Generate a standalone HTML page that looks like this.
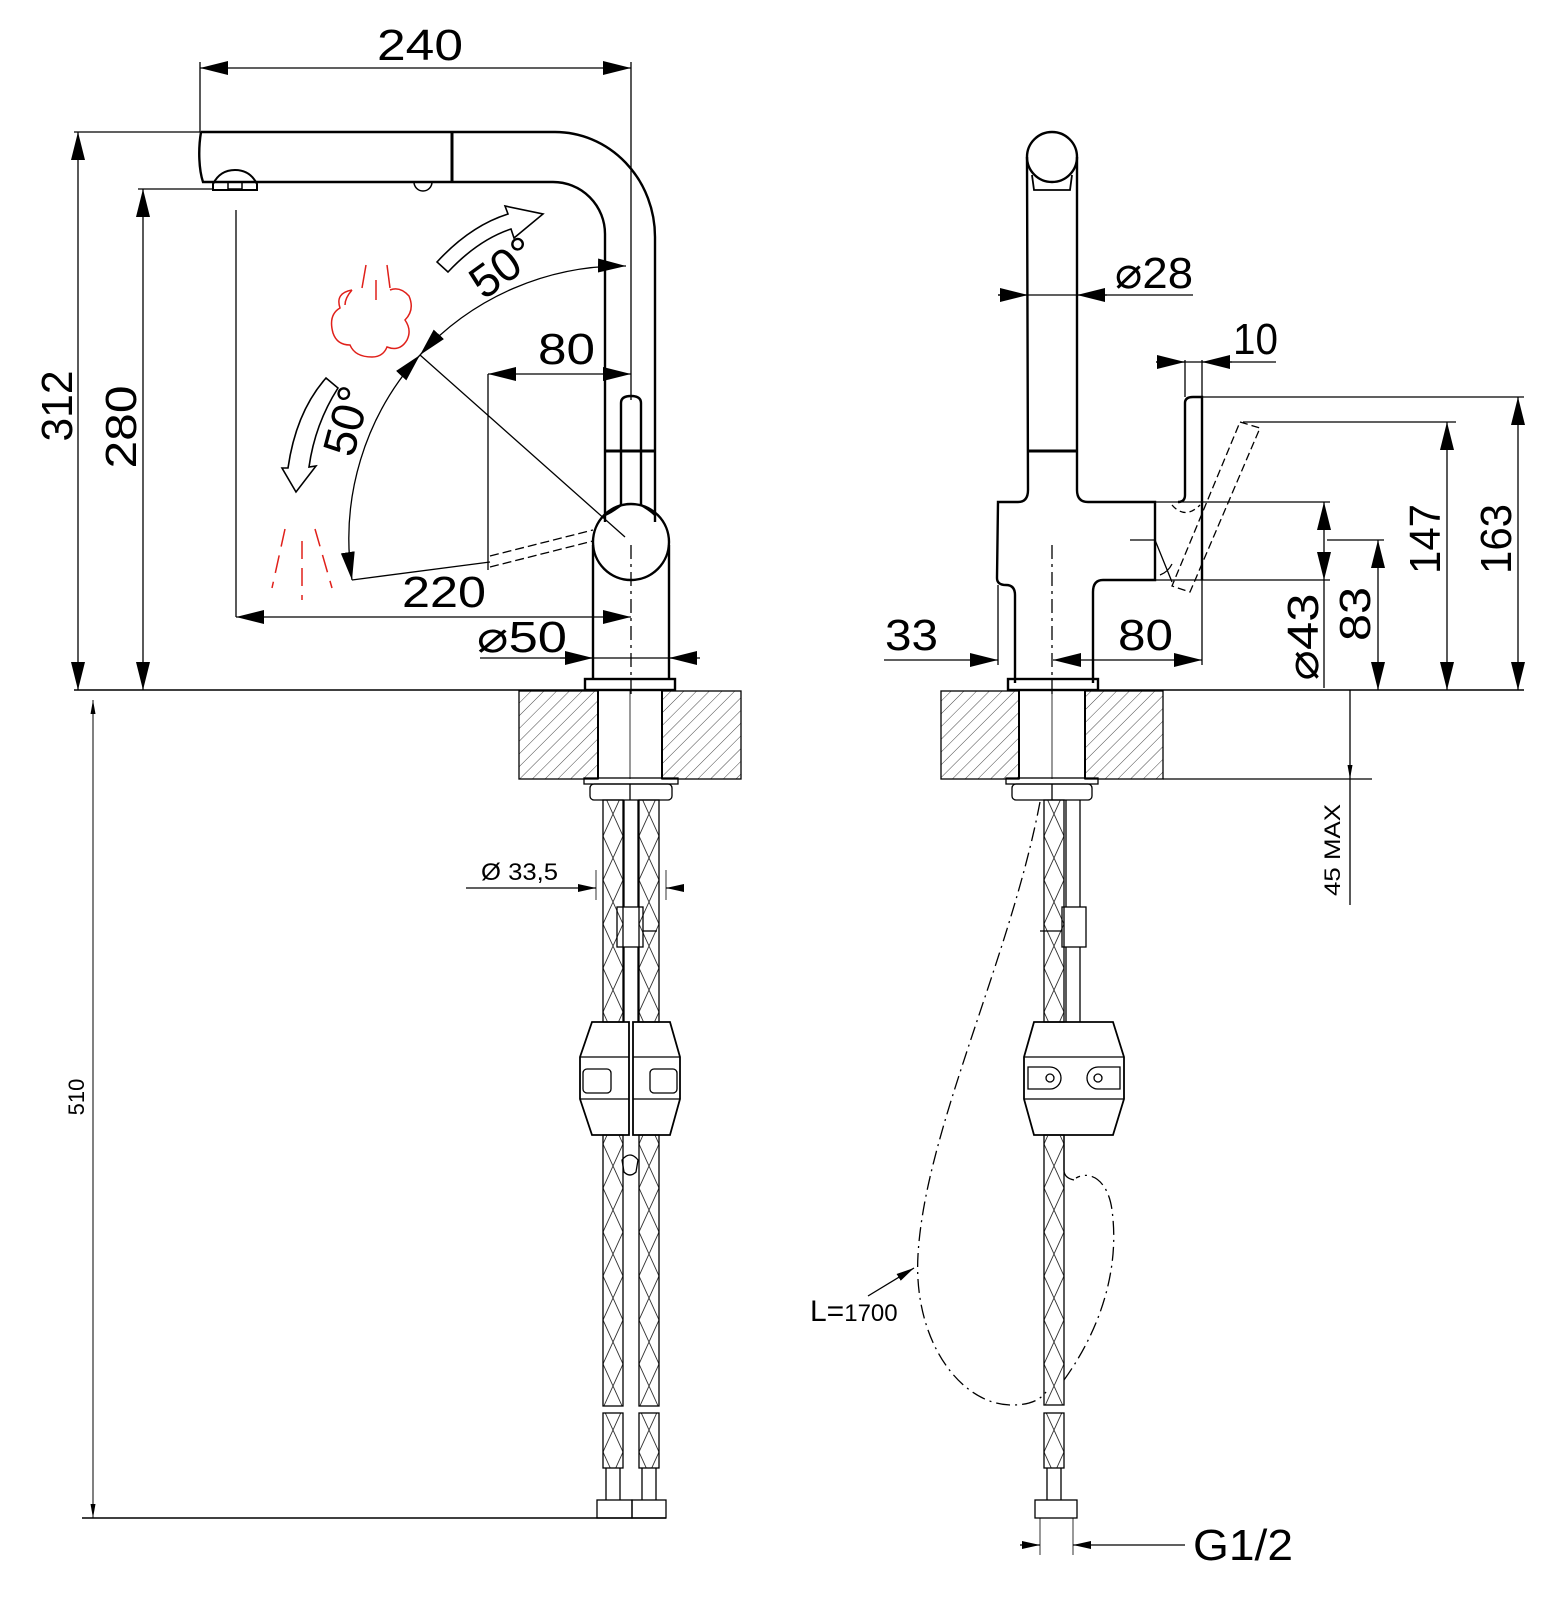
<!DOCTYPE html>
<html><head><meta charset="utf-8"><style>
html,body{margin:0;padding:0;background:#fff}
svg{display:block}
text{font-family:"Liberation Sans","DejaVu Sans",sans-serif;fill:#000}
</style></head><body>
<svg width="1566" height="1602" viewBox="0 0 1566 1602" xmlns="http://www.w3.org/2000/svg">
<defs>
<marker id="a" markerUnits="userSpaceOnUse" markerWidth="28" markerHeight="16" refX="28" refY="8" orient="auto-start-reverse" viewBox="0 0 28 16"><path d="M0,1 L28,8 L0,15 Z" fill="#000"/></marker>
<marker id="s" markerUnits="userSpaceOnUse" markerWidth="18" markerHeight="10" refX="18" refY="5" orient="auto-start-reverse" viewBox="0 0 18 10"><path d="M0,1 L18,5 L0,9 Z" fill="#000"/></marker>
<marker id="t" markerUnits="userSpaceOnUse" markerWidth="14" markerHeight="6" refX="14" refY="3" orient="auto-start-reverse" viewBox="0 0 14 6"><path d="M0,0.5 L14,3 L0,5.5 Z" fill="#000"/></marker>
<pattern id="h" width="9" height="9" patternUnits="userSpaceOnUse" patternTransform="rotate(45)"><line x1="0" y1="0" x2="0" y2="9" stroke="#333" stroke-width="0.9"/></pattern>
<pattern id="b1" x="603" y="0" width="20" height="44" patternUnits="userSpaceOnUse"><path d="M0,0 L20,44 M20,0 L0,44" stroke="#333" stroke-width="0.9" fill="none"/></pattern>
<pattern id="b2" x="639" y="0" width="20" height="44" patternUnits="userSpaceOnUse"><path d="M0,0 L20,44 M20,0 L0,44" stroke="#333" stroke-width="0.9" fill="none"/></pattern>
<pattern id="b3" x="1044" y="0" width="20" height="44" patternUnits="userSpaceOnUse"><path d="M0,0 L20,44 M20,0 L0,44" stroke="#333" stroke-width="0.9" fill="none"/></pattern>
</defs>

<g fill="none" stroke="#000" stroke-width="1.3">
<line x1="200" y1="62" x2="200" y2="132"/>
<line x1="631" y1="62" x2="631" y2="400"/>
<line x1="200" y1="68" x2="631" y2="68" marker-start="url(#a)" marker-end="url(#a)"/>
<line x1="74" y1="132" x2="201" y2="132"/>
<line x1="78" y1="132" x2="78" y2="690" marker-start="url(#a)" marker-end="url(#a)"/>
<line x1="138" y1="189" x2="213" y2="189"/>
<line x1="143" y1="189" x2="143" y2="690" marker-start="url(#a)" marker-end="url(#a)"/>
<line x1="74" y1="690" x2="585" y2="690" stroke-width="1.6"/>

<g stroke-width="2.4">
<path d="M201,132 L555,132 A100,105 0 0 1 655,237 L655,451"/>
<path d="M201,132 C198,150 199,170 203,182 L553,182 A52,52 0 0 1 605,234 L605,451"/>
<line x1="452" y1="132" x2="452" y2="182" stroke-width="3"/>
<line x1="605" y1="451" x2="655" y2="451" stroke-width="3"/>
<path d="M213,190 L213,184 Q220,170 235,170 Q250,170 257,184 L257,190 Z" stroke-width="2"/>
<rect x="228" y="182" width="14" height="7" stroke-width="1.5"/>
<path d="M414,182 A9,9 0 0 0 432,182" stroke-width="1.5"/>
<line x1="605" y1="451" x2="605" y2="522"/>
<line x1="655" y1="451" x2="655" y2="522"/>
<path d="M621,505 L621,403 Q621,396 631,396 Q641,396 641,403 L641,505"/>
<path d="M621,505 Q612,512 605,515"/>
<path d="M641,505 Q650,510 655,515"/>
<circle cx="631" cy="542" r="38"/>
<path d="M593,545 L593,679 M669,545 L669,679"/>
<rect x="585" y="679" width="90" height="11"/>
</g>
<line x1="631" y1="545" x2="631" y2="695" stroke-dasharray="14 5 3 5"/>
<line x1="236" y1="210" x2="236" y2="617"/>
<line x1="236" y1="617" x2="631" y2="617" marker-start="url(#a)" marker-end="url(#a)"/>
<line x1="488" y1="374" x2="488" y2="570"/>
<line x1="488" y1="374" x2="631" y2="374" marker-start="url(#a)" marker-end="url(#a)"/>
<line x1="490" y1="556" x2="593" y2="530" stroke-dasharray="9 4"/>
<line x1="490" y1="567" x2="593" y2="541" stroke-dasharray="9 4"/>
<line x1="420" y1="355" x2="625" y2="537"/>
<line x1="352" y1="580" x2="490" y2="562"/>
<path d="M420,355 A273,273 0 0 1 626,266" marker-start="url(#a)" marker-end="url(#a)"/>
<path d="M420,355 A273,273 0 0 0 352,580" marker-start="url(#a)" marker-end="url(#a)"/>
<line x1="480" y1="658" x2="675" y2="658"/>
<line x1="560" y1="658" x2="593" y2="658" marker-end="url(#a)"/>
<line x1="700" y1="658" x2="669" y2="658" marker-end="url(#a)"/>
<path d="M437,262 Q470,226 508,214 L505,206 L543,214 L514,238 L511,229 Q478,240 448,272 Z" stroke-width="1.6"/>
<path d="M326,378 Q296,412 288,468 L282,468 L296,492 L316,466 L309,467 Q315,424 338,388 Z" stroke-width="1.6"/>

<g stroke="#e0201a" stroke-width="1.5">
<path d="M352,290 Q335,293 340,308 Q328,315 333,333 Q337,345 350,345 Q355,357 372,357 Q383,357 387,347 Q400,352 407,340 Q412,330 405,320 Q415,310 409,296 Q400,286 390,290 M352,290 Q345,298 345,305"/>
<line x1="366" y1="265" x2="362" y2="288"/>
<line x1="387" y1="265" x2="390" y2="288"/>
<line x1="376" y1="280" x2="376" y2="300"/>
<line x1="285" y1="529" x2="272" y2="588" stroke-dasharray="18 9"/>
<line x1="302" y1="541" x2="302" y2="600" stroke-dasharray="18 9"/>
<line x1="315" y1="529" x2="332" y2="588" stroke-dasharray="18 9"/>
</g>

<g stroke-width="2.4">
<circle cx="1052" cy="157" r="25"/>
<path d="M1077,157 L1077,490 Q1077,502 1088,502 L1155,502 L1155,580 L1103,580 Q1093,580 1093,592 L1093,683"/>
<path d="M1027,157 L1028,490 Q1028,502 1018,502 L998,502 L997,578 Q997,585 1006,585 Q1015,585 1015,595 L1015,683"/>
<path d="M1032,175 L1034,190 L1070,190 L1072,175" stroke-width="1.8"/>
<line x1="1028" y1="451" x2="1077" y2="451" stroke-width="3"/>
<path d="M1185,495 L1185,403 Q1185,397 1193,397 L1202,397 L1202,580"/>
<path d="M1185,495 Q1185,502 1178,502"/>
<rect x="1008" y="679" width="90" height="11"/>
</g>
<line x1="1052" y1="545" x2="1052" y2="695" stroke-dasharray="14 5 3 5"/>
<path d="M1240,422 L1260,428 L1190,592 L1172,586 Z" stroke-dasharray="8 4"/>
<path d="M1172,505 Q1185,520 1200,505" stroke-dasharray="6 4"/>
<line x1="1130" y1="540" x2="1155" y2="540"/>
<path d="M1155,540 L1172,582 M1160,575 Q1168,572 1172,564"/>
<line x1="998" y1="295" x2="1193" y2="295"/>
<line x1="998" y1="295" x2="1028" y2="295" marker-end="url(#a)"/>
<line x1="1107" y1="295" x2="1077" y2="295" marker-end="url(#a)"/>
<line x1="1185" y1="360" x2="1185" y2="397"/>
<line x1="1202" y1="360" x2="1202" y2="397"/>
<line x1="1156" y1="362" x2="1276" y2="362"/>
<line x1="1156" y1="362" x2="1185" y2="362" marker-end="url(#a)"/>
<line x1="1232" y1="362" x2="1202" y2="362" marker-end="url(#a)"/>
<line x1="1202" y1="397" x2="1524" y2="397"/>
<line x1="1518" y1="397" x2="1518" y2="690" marker-start="url(#a)" marker-end="url(#a)"/>
<line x1="1243" y1="422" x2="1456" y2="422"/>
<line x1="1447" y1="422" x2="1447" y2="690" marker-start="url(#a)" marker-end="url(#a)"/>
<line x1="1155" y1="502" x2="1330" y2="502"/>
<line x1="1155" y1="580" x2="1330" y2="580"/>
<line x1="1324" y1="502" x2="1324" y2="580" marker-start="url(#a)" marker-end="url(#a)"/>
<line x1="1324" y1="580" x2="1324" y2="688"/>
<line x1="1327" y1="540" x2="1384" y2="540"/>
<line x1="1378" y1="540" x2="1378" y2="690" marker-start="url(#a)" marker-end="url(#a)"/>
<line x1="1098" y1="690" x2="1524" y2="690" stroke-width="1.6"/>
<line x1="998" y1="585" x2="998" y2="665"/>
<line x1="1202" y1="580" x2="1202" y2="665"/>
<line x1="884" y1="660" x2="998" y2="660" marker-end="url(#a)"/>
<line x1="1053" y1="660" x2="1202" y2="660" marker-start="url(#a)" marker-end="url(#a)"/>

<rect x="519" y="691" width="79" height="88" fill="url(#h)"/>
<rect x="662" y="691" width="79" height="88" fill="url(#h)"/>
<rect x="941" y="691" width="78" height="88" fill="url(#h)"/>
<rect x="1085" y="691" width="78" height="88" fill="url(#h)"/>
<line x1="598" y1="691" x2="598" y2="779" stroke-width="2"/><line x1="662" y1="691" x2="662" y2="779" stroke-width="2"/>
<line x1="1019" y1="691" x2="1019" y2="779" stroke-width="2"/><line x1="1085" y1="691" x2="1085" y2="779" stroke-width="2"/>
<line x1="630" y1="691" x2="630" y2="779" stroke-width="0.8"/><line x1="1052" y1="691" x2="1052" y2="779" stroke-width="0.8"/>
<line x1="1163" y1="779" x2="1372" y2="779"/>
<line x1="1350" y1="690" x2="1350" y2="779" marker-end="url(#t)"/>
<line x1="1350" y1="779" x2="1350" y2="905"/>
<rect x="584" y="778" width="94" height="6"/>
<rect x="590" y="784" width="82" height="16" rx="4"/>
<line x1="630" y1="784" x2="630" y2="800"/>
<rect x="1006" y="778" width="92" height="6"/>
<rect x="1012" y="784" width="80" height="16" rx="4"/>
<line x1="1052" y1="784" x2="1052" y2="800"/>

<rect x="603" y="800" width="20" height="222" fill="url(#b1)"/>
<rect x="639" y="800" width="20" height="222" fill="url(#b2)"/>
<rect x="603" y="1135" width="20" height="271" fill="url(#b1)"/>
<rect x="639" y="1135" width="20" height="271" fill="url(#b2)"/>
<rect x="603" y="1413" width="20" height="55" fill="url(#b1)"/>
<rect x="639" y="1413" width="20" height="55" fill="url(#b2)"/>
<path d="M606,1468 L606,1500 M620,1468 L620,1500 M642,1468 L642,1500 M656,1468 L656,1500"/>
<rect x="597" y="1500" width="35" height="18"/><rect x="632" y="1500" width="34" height="18"/>
<path d="M624,800 L624,907 M638,800 L638,907"/>
<rect x="617" y="907" width="26" height="40"/>
<line x1="643" y1="931" x2="657" y2="931"/>
<path d="M624,947 L624,1022 M638,947 L638,1022"/>
<path d="M622,1160 Q630,1150 638,1160 L636,1172 Q630,1178 624,1172 Z"/>
<path d="M592,1022 L629,1022 L629,1135 L592,1135 L580,1099 L580,1057 Z" stroke-width="1.8"/>
<path d="M633,1022 L670,1022 L680,1057 L680,1099 L670,1135 L633,1135 Z" stroke-width="1.8"/>
<path d="M580,1057 L629,1057 M580,1099 L629,1099 M633,1057 L680,1057 M633,1099 L680,1099"/>
<rect x="583" y="1069" width="28" height="24" rx="4"/>
<rect x="650" y="1069" width="27" height="24" rx="4"/>
<line x1="466" y1="888" x2="596" y2="888" marker-end="url(#s)"/>
<line x1="683" y1="888" x2="666" y2="888" marker-end="url(#s)"/>
<line x1="596" y1="870" x2="596" y2="900" stroke-width="0.8"/>
<line x1="666" y1="870" x2="666" y2="900" stroke-width="0.8"/>

<rect x="1044" y="800" width="20" height="222" fill="url(#b3)"/>
<path d="M1066,800 L1066,907 M1080,800 L1080,907"/>
<rect x="1062" y="907" width="24" height="40"/>
<line x1="1040" y1="931" x2="1062" y2="931"/>
<path d="M1066,947 L1066,1022 M1080,947 L1080,1022"/>
<path d="M1034,1022 L1113,1022 L1124,1057 L1124,1099 L1113,1135 L1034,1135 L1024,1099 L1024,1057 Z" stroke-width="1.8"/>
<path d="M1024,1057 L1124,1057 M1024,1099 L1124,1099"/>
<path d="M1028,1067 L1050,1067 A11,11 0 0 1 1050,1089 L1028,1089 Z"/>
<path d="M1120,1067 L1098,1067 A11,11 0 0 0 1098,1089 L1120,1089 Z"/>
<circle cx="1098" cy="1078" r="4"/><circle cx="1050" cy="1078" r="4"/>
<rect x="1044" y="1135" width="20" height="270" fill="url(#b3)"/>
<rect x="1044" y="1413" width="20" height="55" fill="url(#b3)"/>
<path d="M1064,1135 L1064,1170 Q1064,1178 1074,1180"/>
<path d="M1047,1468 L1047,1500 M1061,1468 L1061,1500"/>
<rect x="1035" y="1500" width="42" height="18"/>
<path d="M1040,1518 L1040,1555 M1073,1518 L1073,1555" stroke-width="0.8"/>
<line x1="1020" y1="1545" x2="1040" y2="1545" marker-end="url(#s)"/>
<line x1="1185" y1="1545" x2="1073" y2="1545" marker-end="url(#s)"/>
<path d="M1040,802 C1010,960 925,1130 918,1255 C913,1340 960,1405 1012,1405 C1030,1405 1040,1400 1046,1392" stroke-dasharray="14 5 2 5"/>
<path d="M1064,1380 C1100,1330 1120,1270 1112,1210 C1108,1180 1090,1170 1076,1178" stroke-dasharray="14 5 2 5"/>
<line x1="868" y1="1296" x2="914" y2="1268" marker-end="url(#s)"/>
<line x1="82" y1="1518" x2="666" y2="1518" stroke-width="1.6"/>
<line x1="93" y1="700" x2="93" y2="1518" stroke-width="1" marker-start="url(#t)" marker-end="url(#t)"/>
</g>

<text x="377" y="60" font-size="44" textLength="86" lengthAdjust="spacingAndGlyphs">240</text>
<text transform="translate(72,406) rotate(-90)" text-anchor="middle" font-size="44" textLength="71" lengthAdjust="spacingAndGlyphs">312</text>
<text transform="translate(136,427) rotate(-90)" text-anchor="middle" font-size="44" textLength="83" lengthAdjust="spacingAndGlyphs">280</text>
<text x="538" y="364" font-size="44" textLength="57" lengthAdjust="spacingAndGlyphs">80</text>
<text x="402" y="607" font-size="44" textLength="84" lengthAdjust="spacingAndGlyphs">220</text>
<text x="477" y="652" font-size="44" textLength="90" lengthAdjust="spacingAndGlyphs">⌀50</text>
<text transform="translate(512,280) rotate(-36)" text-anchor="middle" font-size="46">50°</text>
<text transform="translate(362,425) rotate(-75)" text-anchor="middle" font-size="46">50°</text>
<text x="1115" y="288" font-size="44" textLength="78" lengthAdjust="spacingAndGlyphs">⌀28</text>
<text x="1233" y="354" font-size="44" textLength="45" lengthAdjust="spacingAndGlyphs">10</text>
<text transform="translate(1511,539) rotate(-90)" text-anchor="middle" font-size="44" textLength="70" lengthAdjust="spacingAndGlyphs">163</text>
<text transform="translate(1440,539) rotate(-90)" text-anchor="middle" font-size="44" textLength="70" lengthAdjust="spacingAndGlyphs">147</text>
<text transform="translate(1370,614) rotate(-90)" text-anchor="middle" font-size="44" textLength="54" lengthAdjust="spacingAndGlyphs">83</text>
<text transform="translate(1318,637) rotate(-90)" text-anchor="middle" font-size="44" textLength="87" lengthAdjust="spacingAndGlyphs">⌀43</text>
<text x="885" y="650" font-size="44" textLength="53" lengthAdjust="spacingAndGlyphs">33</text>
<text x="1118" y="650" font-size="44" textLength="55" lengthAdjust="spacingAndGlyphs">80</text>
<text x="481" y="880" font-size="24" textLength="77" lengthAdjust="spacingAndGlyphs">Ø 33,5</text>
<text transform="translate(84,1097) rotate(-90)" text-anchor="middle" font-size="22" fill="#333">510</text>
<text transform="translate(1340,850) rotate(-90)" text-anchor="middle" font-size="22" textLength="92" lengthAdjust="spacingAndGlyphs">45 MAX</text>
<text x="810" y="1321" font-size="30">L=<tspan font-size="24">1700</tspan></text>
<text x="1193" y="1560" font-size="44" textLength="100" lengthAdjust="spacingAndGlyphs">G1/2</text>
</svg>
</body></html>
